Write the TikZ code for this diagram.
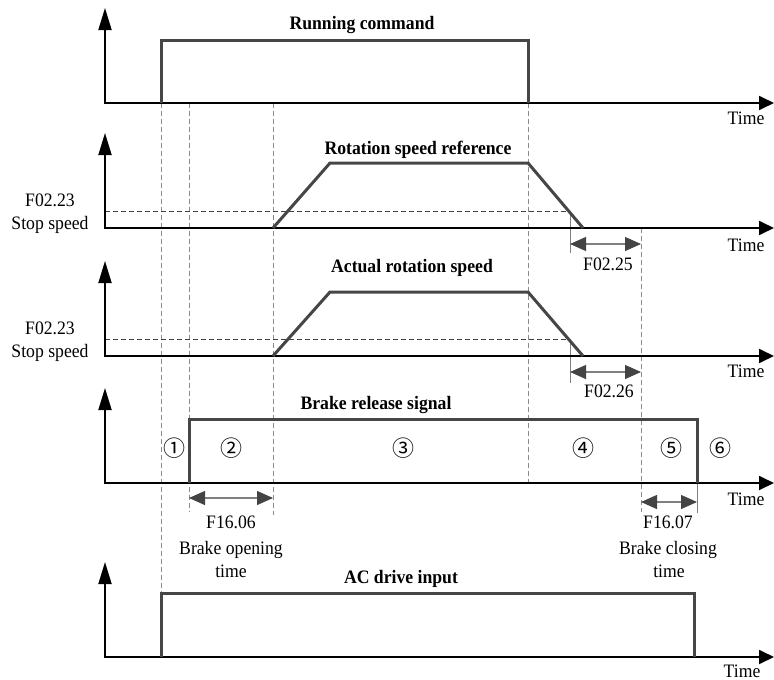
\documentclass[tikz,border=0pt]{standalone}
\usepackage{fontspec}
\setmainfont[FakeStretch=0.93]{Liberation Serif}
\newfontfamily\circfont{Noto Sans CJK SC}
\usetikzlibrary{arrows.meta}

\definecolor{sig}{HTML}{464646}
\definecolor{guidegray}{HTML}{8A8A8A}
\definecolor{dimgray}{HTML}{444444}

\tikzset{
  yaxis/.style={line width=1.8pt, black, -{Triangle[length=22pt,width=13pt]}},
  xaxis/.style={line width=1.8pt, black, -{Triangle[length=15pt,width=14pt]}},
  signal/.style={sig, line width=3pt, line join=miter},
  guide/.style={guidegray, line width=0.9pt, dash pattern=on 5pt off 3pt},
  stopline/.style={black!75, line width=0.9pt, dash pattern=on 5pt off 3pt},
  tickline/.style={gray, line width=0.9pt},
  dimline/.style={gray, line width=1.3pt,
    {Triangle[length=16pt,width=14pt,fill=dimgray,color=dimgray]}-{Triangle[length=16pt,width=14pt,fill=dimgray,color=dimgray]}},
  lbl/.style={font=\fontsize{19}{22}\selectfont, inner sep=0pt, anchor=base},
  ttl/.style={font=\fontsize{19}{22}\selectfont\bfseries, inner sep=0pt, anchor=base},
  circ/.style={font=\circfont\fontsize{22}{24}\selectfont, inner sep=0pt},
}

\begin{document}
\begin{tikzpicture}[x=1pt, y=-1pt]
\useasboundingbox (0,0) rectangle (774,680);

% vertical timing guides
\draw[guide] (161,103) -- (161,593);
\draw[guide] (189,103) -- (189,512);
\draw[guide] (273,103) -- (273,515);
\draw[guide] (528,103) -- (528,483);
\draw[guide] (641,228) -- (641,512);

% stop-speed levels and their markers
\draw[stopline] (105,211) -- (570,211);
\draw[stopline] (105,339) -- (570,339);
\draw[tickline] (570,211) -- (570,253);
\draw[tickline] (570,339) -- (570,383);
\draw[tickline] (697,483) -- (697,513);

% axes
\foreach \base/\top in {103/8, 228/133, 356/261, 483/388, 657/562} {
  \draw[yaxis] (105,\base) -- (105,\top);
  \draw[xaxis] (104,\base) -- (774,\base);
}

% signals
\draw[signal] (161,103) -- (161,40) -- (528,40) -- (528,103);
\draw[signal] (273,228) -- (330,163) -- (528,163) -- (583,228);
\draw[signal] (273,356) -- (330,292) -- (528,292) -- (583,356);
\draw[signal] (189,483) -- (189,419) -- (697,419) -- (697,483);
\draw[signal] (161,657) -- (161,593) -- (694,593) -- (694,657);

% delay dimensions
\draw[dimline] (570,244) -- (641,244);
\draw[dimline] (570,372) -- (641,372);
\draw[dimline] (189,498) -- (273,498);
\draw[dimline] (641,502) -- (697,502);

% titles
\node[ttl] (t1) at (362,29) {Running command};
\node[ttl] (t2) at (418,154) {Rotation speed reference};
\node[ttl] (t3) at (412,272) {Actual rotation speed};
\node[ttl] (t4) at (376,409) {Brake release signal};
\node[ttl] (t5) at (401,583) {AC drive input};

% time labels
\node[lbl] (time1) at (746,124) {Time};
\node[lbl] (time2) at (746,251) {Time};
\node[lbl] (time3) at (746,377) {Time};
\node[lbl] (time4) at (746,505) {Time};
\node[lbl] (time5) at (742,677) {Time};

% stop speed labels
\node[lbl] (ss1a) at (50,206) {F02.23};
\node[lbl] (ss1b) at (50,229) {Stop speed};
\node[lbl] (ss2a) at (50,334) {F02.23};
\node[lbl] (ss2b) at (50,357) {Stop speed};

% parameter labels
\node[lbl] (p25) at (608,270) {F02.25};
\node[lbl] (p26) at (609,397) {F02.26};
\node[lbl] (p06) at (231,528) {F16.06};
\node[lbl] (p06a) at (231,554) {Brake opening};
\node[lbl] (p06b) at (231,577) {time};
\node[lbl] (p07) at (668,528) {F16.07};
\node[lbl] (p07a) at (668,554) {Brake closing};
\node[lbl] (p07b) at (669,577) {time};

% phase numbers
\node[circ] (ph1) at (174,448) {①};
\node[circ] (ph2) at (231,448) {②};
\node[circ] (ph3) at (403,448) {③};
\node[circ] (ph4) at (583,448) {④};
\node[circ] (ph5) at (671,448) {⑤};
\node[circ] (ph6) at (720,448) {⑥};
\end{tikzpicture}
\end{document}
